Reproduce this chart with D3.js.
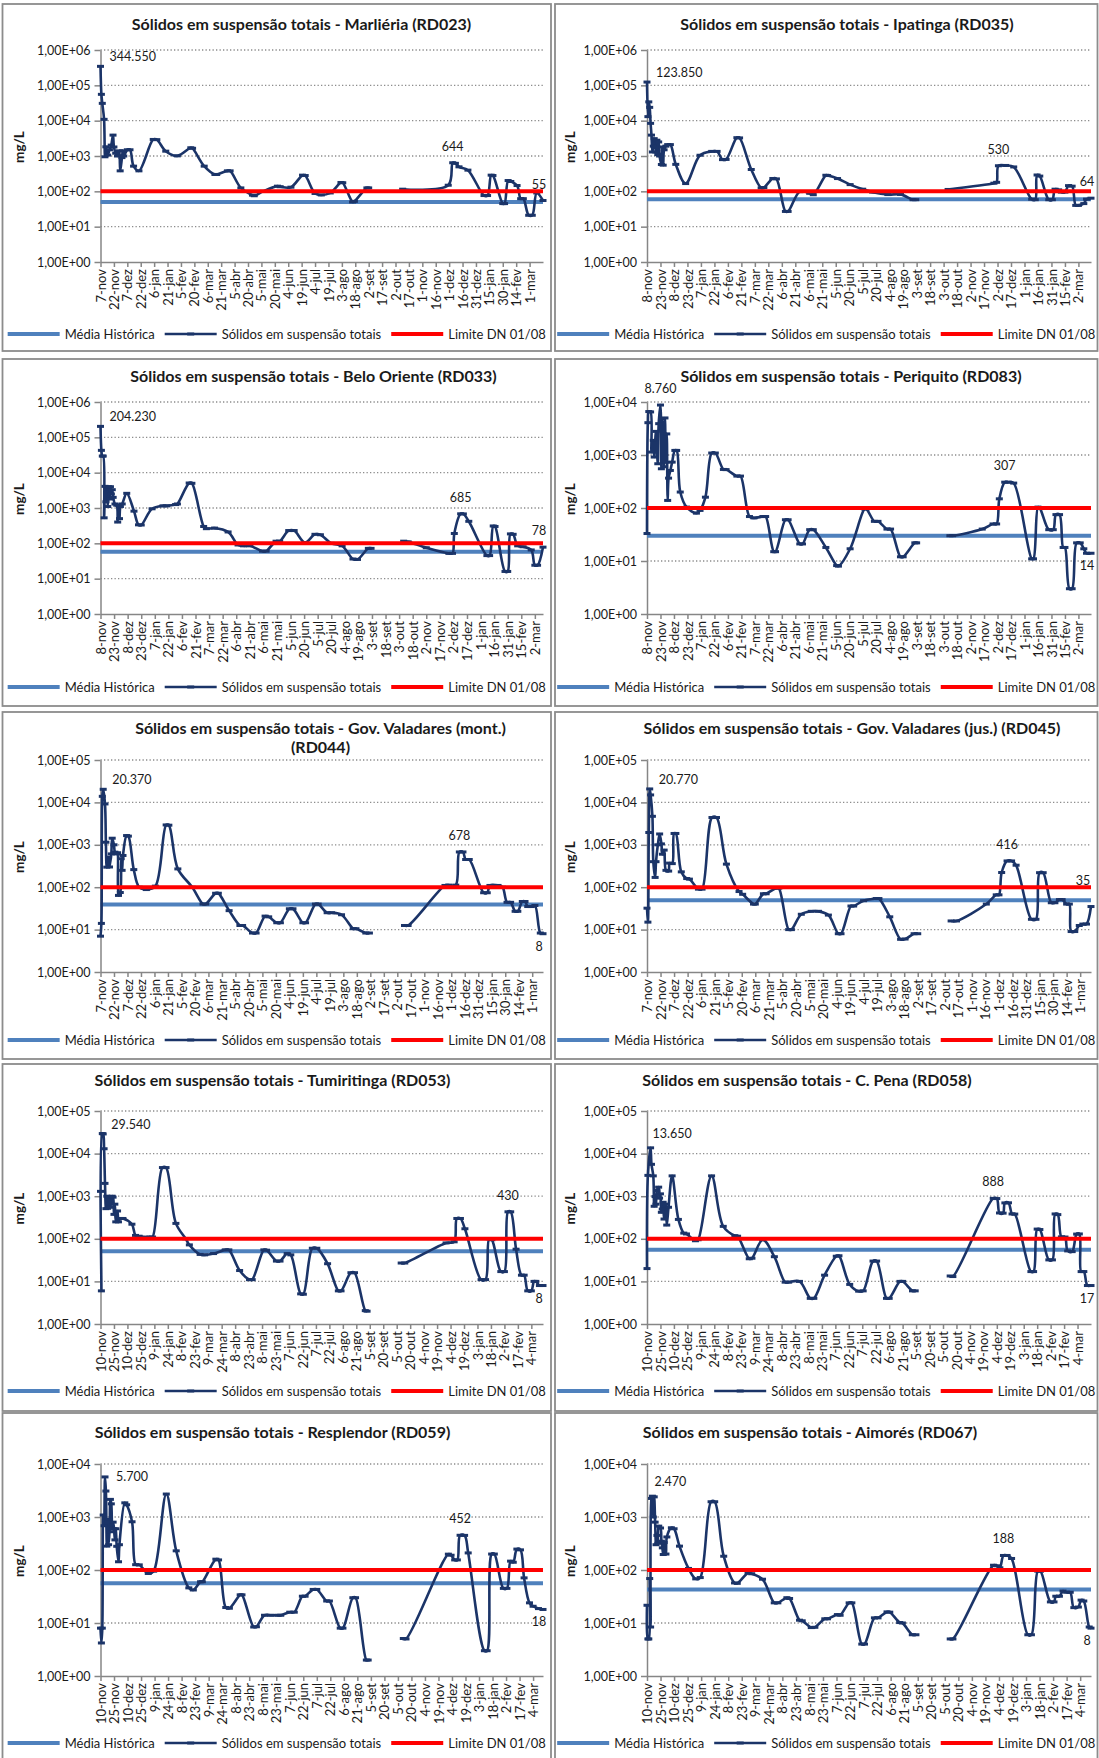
<!DOCTYPE html>
<html>
<head>
<meta charset="utf-8" />
<title>Sólidos em suspensão totais - Rio Doce</title>
<script src="https://d3js.org/d3.v7.min.js"></script>
<style>
    body {
        margin: 0;
        background-color: white;
    }
    svg text {
        font-family: Lato, "Noto Sans", sans-serif;
        fill: #1a1a1a;
    }
    .axis path, .axis line {
        stroke: #868686;
        stroke-width: 1.5px;
    }
    .xaxis text {
        font-size: 13px;
    }
    .yaxis text {
        font-size: 12.5px;
    }
    .title {
        font-size: 16px;
        font-weight: bold;
    }
    .ylabel {
        font-size: 13.5px;
        font-weight: bold;
    }
    .datalabel {
        font-size: 12.5px;
    }
    .legend text {
        font-size: 13px;
    }
</style>
</head>
<body>
<svg id="chart" width="1099" height="1758"></svg>
<script>

// ---- data (days counted from the first sample) ----

var titles = [
    "Sólidos em suspensão totais - Marliéria (RD023)",
    "Sólidos em suspensão totais - Ipatinga (RD035)",
    "Sólidos em suspensão totais - Belo Oriente (RD033)",
    "Sólidos em suspensão totais - Periquito (RD083)",
    "Sólidos em suspensão totais - Gov. Valadares (mont.)|(RD044)",
    "Sólidos em suspensão totais - Gov. Valadares (jus.) (RD045)",
    "Sólidos em suspensão totais - Tumiritinga (RD053)",
    "Sólidos em suspensão totais - C. Pena (RD058)",
    "Sólidos em suspensão totais - Resplendor (RD059)",
    "Sólidos em suspensão totais - Aimorés (RD067)"
];
var seriesNames = ["Média Histórica", "Sólidos em suspensão totais", "Limite DN 01/08"];
var limitDN = 100;
var monthsPt = ["jan","fev","mar","abr","mai","jun","jul","ago","set","out","nov","dez"];

// RD023 Marliéria
var rd023Start = "2015-11-07";
var rd023Days = [0,1,2,4,5,6,8,10,12,14,15,17,19,21,22,24,25,26,30,33,37,43,59,63,73,86,101,103,116,128,130,142,145,157,170,172,182,198,201,213,226,229,240,247,257,269,271,282,284,298,300,null,338,389,394,397,401,411,429,433,437,439,450,452,456,459,466,470,473,479,483,488,495];
var rd023Values = [344550,55600,30900,10900,950,1820,1060,1500,2030,3900,1800,1200,1000,1400,380,900,1400,1000,1500,1500,516,380,2940,2900,1370,1010,1710,1650,516,300,300,380,380,125,78,75,100,140,135,131,287,280,87,79,90,178,175,50,52,125,125,null,115,149,644,620,494,398,76,76,287,280,45,45,202,190,146,62,62,21,21,90,55];
var rd023Mean = 50;
var rd023Labels = [[0,"344.550"],[394,"644"],[495,"55"]];

// RD035 Ipatinga
var rd035Start = "2015-11-08";
var rd035Days = [0,1,2,3,4,5,6,7,8,10,11,12,13,14,16,17,18,19,21,23,26,32,43,59,72,78,84,88,100,103,116,127,130,140,144,154,157,170,181,185,199,201,212,226,240,251,268,282,296,299,null,335,386,389,391,399,408,428,432,434,437,447,451,454,458,461,465,469,473,477,480,486,489,494];
var rd035Values = [123850,13000,34000,23800,8400,3900,1300,1900,3100,1300,2800,1100,2500,1000,575,1800,550,1500,1900,2100,2100,580,166,1050,1350,1350,790,800,3300,3250,415,125,128,231,225,27,27,98,88,80,285,280,230,155,115,95,81,82,58,58,null,113,170,180,530,540,490,60,58,290,270,58,58,115,110,95,95,145,140,40,40,45,60,64];
var rd035Mean = 60;
var rd035Labels = [[0,"123.850"],[391,"530"],[494,"64"]];

// RD033 Belo Oriente
var rd033Start = "2015-11-08";
var rd033Days = [0,1,2,3,4,5,6,7,8,9,10,11,12,13,14,16,18,19,20,21,22,24,29,37,42,45,57,69,73,83,85,98,101,114,117,126,141,152,158,165,179,183,194,198,208,214,226,237,243,255,267,279,284,296,299,null,335,340,360,385,389,391,398,401,407,427,430,434,436,447,450,453,456,461,467,476,480,483,489];
var rd033Values = [204230,42800,29500,29500,527,4100,1500,3500,1100,4000,1800,4000,2500,3300,2000,1300,1200,400,1200,500,1100,1300,2600,815,334,330,950,1150,1150,1250,1300,5100,5000,300,260,270,210,90,85,85,60,60,115,115,230,230,105,180,175,100,85,36,35,72,72,null,115,110,75,52,52,190,685,680,420,45,45,310,300,16,16,185,180,85,80,65,24,24,78];
var rd033Mean = 58;
var rd033Labels = [[0,"204.230"],[398,"685"],[489,"78"]];

// RD083 Periquito
var rd083Start = "2015-11-08";
var rd083Days = [0,1,2,4,5,7,8,10,12,13,15,16,17,19,20,21,22,23,24,26,28,31,33,37,44,55,59,65,72,76,85,88,100,104,114,119,129,132,141,143,154,157,170,173,181,185,199,211,213,226,242,244,253,257,267,271,282,285,298,300,null,337,340,373,385,389,392,398,402,408,428,430,435,437,447,452,455,459,463,465,470,473,478,482,486,489,494];
var rd083Values = [33,4070,6600,6500,1135,1890,915,2790,684,3900,8760,550,4840,600,5000,730,2500,139,366,511,734,1220,1220,200,104,80,90,160,1090,1090,534,530,400,400,69,65,69,69,15,15,60,60,21,21,39,39,18,8.2,8,17,96,96,56,56,40,40,12,12,22,22,null,30,30,40,50,50,149,307,307,295,11,11,104,100,39,39,75,75,18,18,3,3,22,22,17,14,14];
var rd083Mean = 30;
var rd083Labels = [[15,"8.760"],[398,"307"],[494,"14"]];

// RD044 Gov. Valadares (montante)
var rd044Start = "2015-11-07";
var rd044Days = [0,1,2,3,5,6,7,9,10,12,13,15,16,18,19,20,22,23,24,25,29,31,37,43,51,61,73,76,86,102,114,117,128,131,143,155,158,169,173,183,187,196,200,210,214,225,228,239,242,252,257,268,281,284,295,299,null,338,342,383,387,395,399,403,406,410,426,430,433,442,447,452,456,461,464,469,472,475,479,483,489,492];
var rd044Values = [7,14,13900,20370,9200,1150,297,510,300,610,1430,1000,670,610,650,64,75,470,250,560,1650,1600,260,100,88,106,2940,2900,270,100,40,40,72,72,28,12.5,12.5,8.3,8.3,20.8,20,14.5,14.5,31,31,14.5,14.5,40,40,25,25,22.4,10.5,10.5,8.3,8.3,null,12.5,12.5,110,112,112,678,678,450,450,74,74,110,110,100,44,44,27,27,46,46,35,35,37,8.3,8];
var rd044Mean = 39;
var rd044Labels = [[3,"20.370"],[399,"678"],[492,"8"]];

// RD045 Gov. Valadares (jusante)
var rd045Start = "2015-11-07";
var rd045Days = [0,1,2,3,4,6,7,9,10,12,14,16,17,19,21,24,25,28,30,32,38,44,47,57,61,72,77,88,102,106,118,120,129,132,143,146,157,160,171,182,190,201,212,215,226,229,240,254,257,269,281,286,296,300,null,337,343,376,387,390,393,399,404,409,426,431,435,439,448,452,457,460,465,468,470,474,479,483,487,492];
var rd045Values = [32,15,1950,20770,15000,4700,400,170,400,1000,1800,1050,600,750,250,240,370,360,1850,1850,230,160,155,90,90,4400,4400,350,79,68,40,40,70,70,95,95,10,10,23,27,27,22,8,8,36,36,48,54,54,20,5.9,6,8,8,null,16,16,40,66,66,222,416,416,330,17.5,17.5,220,220,43,43,51,51,40,40,9,9,12.5,13.5,13.5,35];
var rd045Mean = 49;
var rd045Labels = [[3,"20.770"],[399,"416"],[492,"35"]];

// RD053 Tumiritinga
var rd053Start = "2015-11-10";
var rd053Days = [0,1,2,3,4,5,6,7,8,10,11,13,14,15,16,17,19,20,22,25,35,39,43,55,58,69,73,84,95,99,111,116,126,139,143,155,166,169,182,185,196,200,208,212,223,226,236,241,253,265,268,279,283,295,297,null,335,339,385,394,397,401,406,424,429,433,436,446,450,454,457,463,469,472,476,480,483,485,489,493];
var rd053Values = [1300,6,29540,29000,13000,2000,510,1000,520,950,550,1000,950,375,650,250,450,250,300,300,220,120,115,110,110,4700,4700,230,100,72,43,42,45,55,55,18,11,11,55,54,30,30,45,42,5.1,5,60,60,26,6,6,16,16,2.06,2,null,27,27,80,85,300,300,172,11,11,100,95,17,17,430,430,57,14,14,6,6,10,10,8,8];
var rd053Mean = 51;
var rd053Labels = [[2,"29.540"],[454,"430"],[493,"8"]];

// RD058 C. Pena
var rd058Start = "2015-11-10";
var rd058Days = [0,1,4,5,7,8,9,10,11,13,14,15,16,17,18,19,21,22,24,28,35,41,44,54,57,72,85,98,101,114,117,129,142,154,158,170,182,186,198,211,214,226,236,241,252,256,267,270,282,285,296,299,null,338,341,386,390,393,397,399,403,407,410,428,431,435,438,448,452,455,458,462,466,469,474,479,482,484,487,491,495];
var rd058Values = [20,3080,13650,5600,3000,580,980,650,1360,1630,900,1135,419,500,721,291,650,210,550,3000,285,136,130,90,95,3000,196,118,115,34,35,95,38,9.6,9.6,10,4,4,14,39,40,8.5,5.9,6,30,30,4,4,10,10,6,6,null,13.4,13,888,880,404,400,696,700,383,380,17,17,169,165,32,32,383,370,111,110,52,50,129,130,17,17,8,8];
var rd058Mean = 55;
var rd058Labels = [[4,"13.650"],[386,"888"],[495,"17"]];

// RD059 Resplendor
var rd059Start = "2015-11-10";
var rd059Days = [0,1,2,3,4,5,6,7,8,9,10,11,12,13,14,15,16,17,18,20,21,27,29,35,39,43,53,59,73,84,98,103,111,113,128,131,139,143,155,157,170,173,182,189,197,200,210,215,224,227,236,240,251,254,266,269,280,283,295,297,null,336,339,386,389,393,396,399,404,408,426,429,434,437,447,451,455,458,462,466,470,476,480,486,491];
var rd059Values = [8,4.2,8,1090,684,5700,3090,282,900,300,527,2150,1770,600,800,600,370,600,280,143,300,1850,1700,813,126,125,86,95,2710,230,46,42,60,60,160,155,19.6,19,34,34,8.4,8.5,14,14,14,14,16,16,32,32,43,43,26,26,8,8,30,30,2,2,null,5.1,5,199,190,155,155,452,450,210,3,3,200,200,45,45,147,140,248,240,71,24,20.7,18.7,18];
var rd059Mean = 56;
var rd059Labels = [[5,"5.700"],[399,"452"],[491,"18"]];

// RD067 Aimorés
var rd067Start = "2015-11-10";
var rd067Days = [0,1,2,3,4,5,6,7,8,9,10,11,12,13,15,16,17,18,19,21,22,27,30,36,46,54,59,71,75,85,97,100,112,116,128,141,145,155,158,169,172,182,186,197,200,211,214,224,227,238,241,252,256,266,269,280,283,294,298,null,336,339,384,388,391,395,399,404,422,426,433,436,447,451,453,457,461,465,469,473,478,481,484,490,492];
var rd067Values = [21.6,5,5,69,8.4,2240,2470,1000,2400,800,300,450,320,673,620,350,262,196,330,200,420,626,600,282,107,68,72,1940,1940,182,57,56,88,85,67,24,24,30,29,11.3,11,8.2,8.3,12,12,14.4,14,24,24,4,4,12.5,12.5,16.2,16,10.2,10,6,6,null,5,5,123,120,110,188,188,165,6,6,95,95,25,25,32,32,40,38,38,19.5,20,27,26,8.4,8];
var rd067Mean = 43;
var rd067Labels = [[6,"2.470"],[395,"188"],[492,"8"]];

// highest decade shown on each log axis (10^n)
var yTopExp = [6, 6, 6, 4, 5, 5, 5, 5, 4, 4];

var panels = [
    {start: rd023Start, days: rd023Days, values: rd023Values, mean: rd023Mean, labels: rd023Labels, place: ["r","a","a"]},
    {start: rd035Start, days: rd035Days, values: rd035Values, mean: rd035Mean, labels: rd035Labels, place: ["r","a","a"]},
    {start: rd033Start, days: rd033Days, values: rd033Values, mean: rd033Mean, labels: rd033Labels, place: ["r","a","a"]},
    {start: rd083Start, days: rd083Days, values: rd083Values, mean: rd083Mean, labels: rd083Labels, place: ["a","a","b"]},
    {start: rd044Start, days: rd044Days, values: rd044Values, mean: rd044Mean, labels: rd044Labels, place: ["r","a","b"]},
    {start: rd045Start, days: rd045Days, values: rd045Values, mean: rd045Mean, labels: rd045Labels, place: ["r","a","ahi"]},
    {start: rd053Start, days: rd053Days, values: rd053Values, mean: rd053Mean, labels: rd053Labels, place: ["r","a","b"]},
    {start: rd058Start, days: rd058Days, values: rd058Values, mean: rd058Mean, labels: rd058Labels, place: ["ra","a","b"]},
    {start: rd059Start, days: rd059Days, values: rd059Values, mean: rd059Mean, labels: rd059Labels, place: ["rm","a","b"]},
    {start: rd067Start, days: rd067Days, values: rd067Values, mean: rd067Mean, labels: rd067Labels, place: ["ra","a","b"]}
];

// ---- layout ----
var colBox = [{x: 2.5, w: 548.5}, {x: 555, w: 542.5}];
var colPlot = [{l: 100.5, r: 543}, {l: 647, r: 1091}];
var rowBox = [4, 359, 712, 1064, 1413];
var boxH = 347;
var rowPlot = [[50, 262], [402, 614], [760, 972], [1111, 1324], [1464, 1676]];
var rowTitle = [25, 377, 729, 1081, 1433];
var rowLegend = [334, 687, 1040, 1391, 1743];
var titleX = [299, 292, 311, 296, 318, 297, 270, 252, 270, 255];
// data label offsets: anchor, dx, dy
var labelPlace = {
    r: ["start", 9, -5],
    ra: ["start", 2, -10],
    rm: ["start", 11, 4],
    a: ["middle", 0, -12],
    ahi: ["middle", -4, -22],
    b: ["middle", 0, 17]
};

var navy = "#1B3468", red = "#FF0000", blue = "#4F81BD";

var svg = d3.select("#chart");
var parseDay = d3.utcParse("%Y-%m-%d");

function fmtDate(d) { return d.getUTCDate() + "-" + monthsPt[d.getUTCMonth()]; }
function fmtExp(v) {
    var e = Math.round(Math.log10(v));
    return "1,00E+" + (e < 10 ? "0" : "") + e;
}

function drawPanel(p, i) {
    var col = i % 2, row = Math.floor(i / 2);
    var bx = colBox[col].x, bw = colBox[col].w, by = rowBox[row];
    var L = colPlot[col].l, R = colPlot[col].r;
    var T = rowPlot[row][0], B = rowPlot[row][1];

    var g = svg.append("g");
    g.append("rect")
        .attr("x", bx).attr("y", by)
        .attr("width", bw).attr("height", boxH)
        .attr("fill", "white")
        .attr("stroke", "#8c8c8c")
        .attr("stroke-width", 1.8);

    // title (| marks a line break)
    var tl = titles[i].split("|");
    var title = g.append("text").attr("class", "title")
        .attr("text-anchor", "middle")
        .attr("x", bx + titleX[i])
        .attr("y", rowTitle[row] + 5);
    tl.forEach(function (t, k) {
        title.append("tspan").attr("x", bx + titleX[i]).attr("dy", k == 0 ? 0 : 19).text(t);
    });

    var start = parseDay(p.start);
    var end = d3.utcDay.offset(start, d3.max(p.days));
    var x = d3.scaleUtc().domain([start, end]).range([L, R]);
    var y = d3.scaleLog().domain([1, Math.pow(10, yTopExp[i])]).range([B, T]);

    var decades = d3.range(0, yTopExp[i] + 1).map(function (e) { return Math.pow(10, e); });

    // dotted gridlines
    g.selectAll(".grid").data(decades.slice(1)).enter().append("line")
        .attr("x1", L).attr("x2", R)
        .attr("y1", function (d) { return y(d); })
        .attr("y2", function (d) { return y(d); })
        .attr("stroke", "#8c8c8c")
        .attr("stroke-width", 1.3)
        .attr("stroke-dasharray", "1.3,2.2");

    // axes: a tick every 15 days from the first sample
    var tickDates = d3.range(0, 33).map(function (k) { return d3.utcDay.offset(start, 15 * k); })
        .filter(function (d) { return d < end; });

    g.append("g").attr("class", "axis xaxis")
        .attr("transform", "translate(0," + B + ")")
        .call(d3.axisBottom(x).tickValues(tickDates).tickFormat(fmtDate).tickSize(5).tickSizeOuter(0))
        .selectAll("text")
        .attr("transform", "rotate(-90)")
        .attr("x", -7).attr("y", 0).attr("dy", "0.35em")
        .style("text-anchor", "end");

    g.append("g").attr("class", "axis yaxis")
        .attr("transform", "translate(" + L + ",0)")
        .call(d3.axisLeft(y).tickValues(decades).tickFormat(fmtExp).tickSize(6).tickSizeOuter(0))
        .selectAll("text").attr("x", -10);

    g.selectAll(".axis text").attr("fill", "#1a1a1a").style("fill", "#1a1a1a");

    g.append("text").attr("class", "ylabel")
        .attr("transform", "translate(" + (bx + (col == 0 ? 17 : 15)) + "," + ((T + B) / 2 - 9) + ") rotate(-90)")
        .attr("text-anchor", "middle")
        .attr("dy", "0.35em")
        .text("mg/L");

    // historical mean
    g.append("line")
        .attr("x1", L).attr("x2", R)
        .attr("y1", y(p.mean)).attr("y2", y(p.mean))
        .attr("stroke", blue).attr("stroke-width", 4);

    // series
    var pts = p.days.map(function (d, k) {
        return {day: d, date: d == null ? null : d3.utcDay.offset(start, d), v: p.values[k]};
    });
    var line = d3.line()
        .defined(function (d) { return d.v != null; })
        .x(function (d) { return x(d.date); })
        .y(function (d) { return y(d.v); })
        .curve(d3.curveCatmullRom.alpha(0.5));

    g.append("path").datum(pts)
        .attr("d", line)
        .attr("fill", "none")
        .attr("stroke", navy)
        .attr("stroke-width", 2.6)
        .attr("stroke-linejoin", "round");

    g.selectAll(".mk").data(pts.filter(function (d) { return d.v != null; }))
        .enter().append("rect")
        .attr("x", function (d) { return x(d.date) - 3.5; })
        .attr("y", function (d) { return y(d.v) - 1.5; })
        .attr("width", 7).attr("height", 3)
        .attr("fill", navy);

    // limit DN 01/08
    g.append("line")
        .attr("x1", L).attr("x2", R)
        .attr("y1", y(limitDN)).attr("y2", y(limitDN))
        .attr("stroke", red).attr("stroke-width", 4);

    // data labels
    var lastDay = d3.max(p.days);
    p.labels.forEach(function (lb, k) {
        var d = pts[p.days.indexOf(lb[0])];
        var pl = labelPlace[p.place[k]];
        var dx = (lb[0] == lastDay && pl[0] == "middle") ? -4 : 0;
        g.append("text").attr("class", "datalabel")
            .attr("text-anchor", pl[0])
            .attr("x", x(d.date) + pl[1] + dx)
            .attr("y", y(d.v) + pl[2])
            .text(lb[1]);
    });

    // legend
    var lg = g.append("g").attr("class", "legend");
    var swW = 52, cx = 0;
    var ly = rowLegend[row];
    var colors = [blue, navy, red];
    seriesNames.forEach(function (name, k) {
        lg.append("line")
            .attr("x1", cx).attr("x2", cx + swW)
            .attr("y1", ly).attr("y2", ly)
            .attr("stroke", colors[k])
            .attr("stroke-width", k == 1 ? 2.6 : 4);
        if (k == 1) {
            lg.append("rect").attr("x", cx + swW / 2 - 3.5).attr("y", ly - 1.5)
                .attr("width", 7).attr("height", 3).attr("fill", navy);
        }
        var t = lg.append("text").attr("x", cx + swW + 5).attr("y", ly).attr("dy", "0.35em").text(name);
        cx += swW + 5 + t.node().getComputedTextLength() + 10;
    });
    cx -= 10;
    lg.attr("transform", "translate(" + (bx + (bw - cx) / 2) + ",0)");
}

panels.forEach(drawPanel);

</script>
</body>
</html>
